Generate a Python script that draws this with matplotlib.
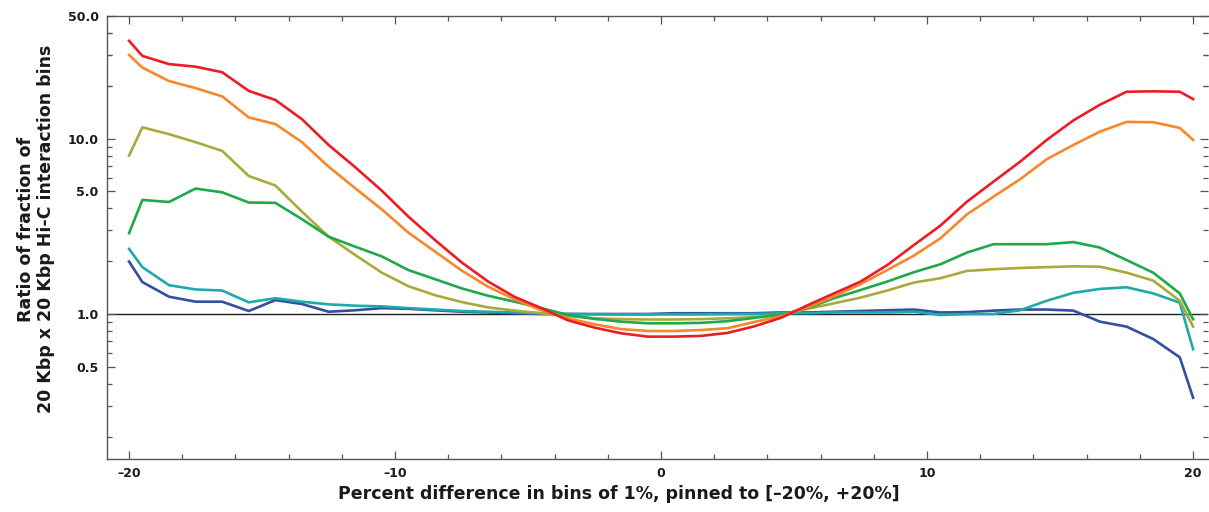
import numpy as np
import matplotlib.pyplot as plt
from matplotlib.ticker import FixedLocator, NullFormatter

plt.rcParams['font.family'] = ['DejaVu Sans']

# bin centres, pinned ends at -20 and +20
x = [-20, -19.5, -18.5, -17.5, -16.5, -15.5, -14.5, -13.5, -12.5, -11.5, -10.5,
     -9.5, -8.5, -7.5, -6.5, -5.5, -4.5, -3.5, -2.5, -1.5, -0.5,
     0.5, 1.5, 2.5, 3.5, 4.5, 5.5, 6.5, 7.5, 8.5, 9.5,
     10.5, 11.5, 12.5, 13.5, 14.5, 15.5, 16.5, 17.5, 18.5, 19.5, 20]

red = [36.1, 29.6, 26.6, 25.7, 23.9, 18.7, 16.6, 12.9, 9.2, 6.87, 5.05,
       3.59, 2.64, 1.97, 1.53, 1.25, 1.08, 0.92, 0.836, 0.776, 0.743,
       0.743, 0.75, 0.78, 0.85, 0.95, 1.12, 1.31, 1.53, 1.90, 2.47,
       3.19, 4.37, 5.69, 7.39, 9.83, 12.7, 15.6, 18.5, 18.6, 18.5, 16.8]
orange = [30.0, 25.4, 21.3, 19.4, 17.4, 13.2, 12.1, 9.54, 6.92, 5.21, 3.95,
          2.91, 2.27, 1.77, 1.43, 1.21, 1.05, 0.945, 0.873, 0.82, 0.80,
          0.80, 0.81, 0.83, 0.90, 0.97, 1.09, 1.26, 1.48, 1.78, 2.15,
          2.70, 3.70, 4.67, 5.87, 7.63, 9.2, 10.96, 12.45, 12.4, 11.5, 9.83]
olive = [8.0, 11.6, 10.6, 9.54, 8.51, 6.12, 5.40, 3.83, 2.76, 2.17, 1.72,
         1.44, 1.28, 1.17, 1.09, 1.045, 1.01, 0.974, 0.945, 0.935, 0.93,
         0.93, 0.935, 0.945, 0.96, 0.99, 1.07, 1.15, 1.24, 1.36, 1.51,
         1.60, 1.76, 1.80, 1.83, 1.85, 1.87, 1.86, 1.72, 1.55, 1.19, 0.847]
green = [2.89, 4.47, 4.35, 5.19, 4.94, 4.32, 4.30, 3.47, 2.76, 2.42, 2.13,
         1.78, 1.58, 1.40, 1.27, 1.175, 1.08, 0.987, 0.937, 0.904, 0.885,
         0.885, 0.89, 0.91, 0.95, 0.99, 1.08, 1.23, 1.37, 1.53, 1.73,
         1.92, 2.24, 2.50, 2.50, 2.50, 2.57, 2.39, 2.03, 1.72, 1.31, 0.933]
teal = [2.35, 1.85, 1.46, 1.38, 1.36, 1.165, 1.23, 1.175, 1.135, 1.115, 1.105,
        1.08, 1.06, 1.04, 1.03, 1.02, 1.01, 1.0, 0.995, 0.995, 0.995,
        0.995, 0.995, 1.0, 1.0, 1.01, 1.01, 1.02, 1.02, 1.02, 1.03,
        0.987, 1.0, 1.0, 1.05, 1.19, 1.32, 1.39, 1.42, 1.31, 1.16, 0.63]
navy = [1.99, 1.52, 1.255, 1.175, 1.175, 1.04, 1.20, 1.14, 1.03, 1.05, 1.08,
        1.07, 1.05, 1.03, 1.02, 1.01, 1.0, 1.0, 1.0, 1.0, 1.0,
        1.01, 1.01, 1.01, 1.01, 1.02, 1.02, 1.03, 1.04, 1.05, 1.06,
        1.02, 1.025, 1.045, 1.06, 1.06, 1.045, 0.904, 0.847, 0.72, 0.566, 0.333]

series = [navy, teal, olive, green, orange, red]
colors = ['#3350a0', '#1eaaaa', '#aaaa3a', '#1eaa4a', '#f7872a', '#ec1c24']

xticks = [-20, -10, 0, 10, 20]
xticklabels = ['\u201320', '\u201310', '0', '10', '20']
yticks = [0.5, 1.0, 5.0, 10.0, 50.0]
yticklabels = ['0.5', '1.0', '5.0', '10.0', '50.0']

fig = plt.figure(figsize=(12.09, 5.12), dpi=100)
ax = fig.add_axes([107/1209, 1 - 459/512, 1101/1209, 443/512])

ax.axhline(1.0, color='#222222', lw=1.0, zorder=1)
for ys, c in zip(series, colors):
	ax.plot(x, ys, color=c, lw=1.9, zorder=2)

ax.set_yscale('log')
ax.set_xlim(-20.83, 20.56)
ax.set_ylim(0.149, 50)

ax.xaxis.set_major_locator(FixedLocator(xticks))
ax.set_xticklabels(xticklabels)
ax.xaxis.set_minor_locator(FixedLocator([v for v in range(-20, 21, 2) if v % 10]))
ax.yaxis.set_major_locator(FixedLocator(yticks))
ax.set_yticklabels(yticklabels)
minor_y = [m * 10.0 ** e for e in (-1, 0, 1) for m in range(2, 10)] + [20, 30, 40]
ax.yaxis.set_minor_locator(FixedLocator([v for v in minor_y if v not in yticks]))
ax.yaxis.set_minor_formatter(NullFormatter())

spine_col = '#555555'
for s in ax.spines.values():
	s.set_color(spine_col)
	s.set_linewidth(1.0)
ax.spines['right'].set_visible(False)

ax.tick_params(which='both', direction='in', top=True, right=True, colors=spine_col,
			   labelcolor='#1a1a1a', width=0.9)
ax.tick_params(which='major', length=6, labelsize=9, pad=6)
ax.tick_params(which='minor', length=3.5)
for lab in ax.get_xticklabels() + ax.get_yticklabels():
	lab.set_fontweight('bold')

fig.text(36/1209, 1 - 229/512, 'Ratio of fraction of\n20 Kbp x 20 Kbp Hi-C interaction bins',
		 rotation=90, ha='center', va='center', multialignment='center',
		 fontsize=12.5, fontweight='bold', color='#1a1a1a', linespacing=1.2)
fig.text(619/1209, 1 - 494/512, 'Percent difference in bins of 1%, pinned to [\u201320%, +20%]',
		 ha='center', va='center', fontsize=12.5, fontweight='bold', color='#1a1a1a')

fig.savefig('out.png', dpi=100)
